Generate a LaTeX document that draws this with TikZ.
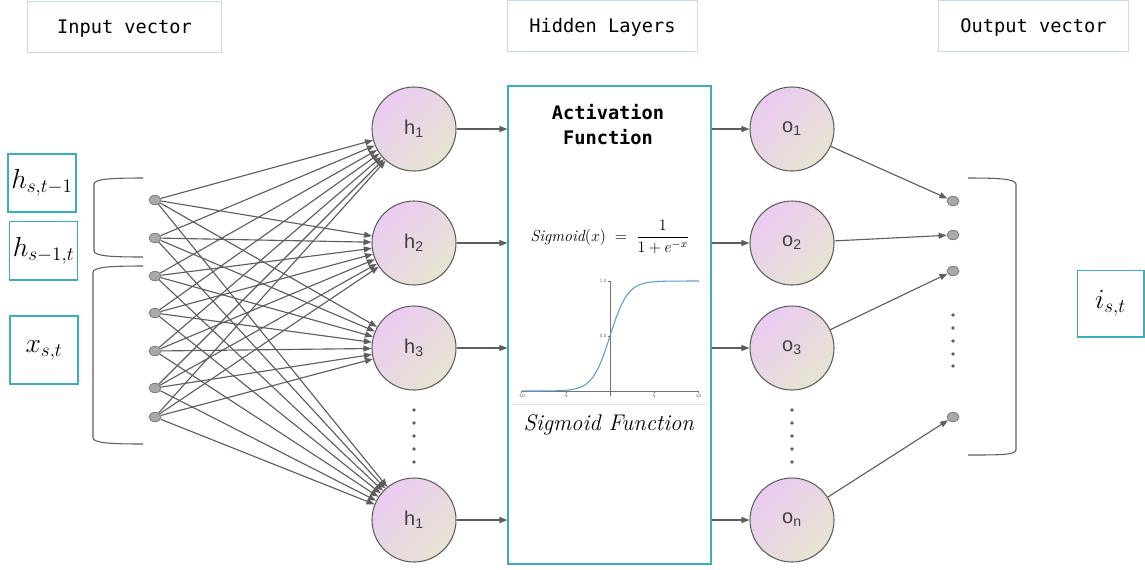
\documentclass[tikz,border=0pt]{standalone}
\usepackage{amsmath}
\usepackage{fontspec}
\setsansfont{Liberation Sans}
\setmonofont{DejaVu Sans Mono}
\usepackage{tikz}
\usetikzlibrary{positioning,arrows.meta,shapes.geometric}
\definecolor{tealb}{HTML}{3AAFBB}
\definecolor{headb}{HTML}{C9DAEC}
\definecolor{edgeg}{HTML}{5E5E5E}
\definecolor{lilac}{HTML}{EBCBF2}
\definecolor{beige}{HTML}{E6E4D2}
\definecolor{dotg}{HTML}{A9A9A9}
\definecolor{curveb}{HTML}{5B9BD5}

\begin{document}
\begin{tikzpicture}[x=0.75pt,y=-0.75pt,
  hbox/.style={draw=headb,line width=0.8pt,minimum width=143pt,minimum height=38pt,text depth=0.5pt,font=\ttfamily\fontsize{14}{16}\selectfont},
  vbox/.style={draw=tealb,line width=1pt,inner sep=0pt,minimum width=51pt,font=\fontsize{20}{22}\selectfont},
  hn/.style={circle,draw=edgeg,line width=0.8pt,minimum size=63pt,inner sep=0pt,
    top color=lilac,bottom color=beige,shading angle=45,text=black!75,font=\sffamily\fontsize{15}{17}\selectfont},
  dn/.style={ellipse,draw=edgeg!80,fill=dotg,line width=0.6pt,minimum width=9pt,minimum height=7pt,inner sep=0pt},
  arr/.style={draw=edgeg,line width=0.85pt,-{Triangle[length=6pt,width=4.5pt]}},
  brk/.style={draw=edgeg,line width=0.8pt},
  tk/.style={font=\sffamily\fontsize{3.5}{4}\selectfont,text=black!60,inner sep=1pt}]
\useasboundingbox (0,0) rectangle (1145,569);
\node[hbox,minimum width=146pt] (hin) at (124.5,27) {Input vector};
\node[hbox] (hhid) at (602.5,26) {Hidden Layers};
\node[hbox] (hout) at (1033.5,26) {Output vector};
\node[vbox,minimum height=43.5pt] (ha) at (42,183) {$h_{s,t-1}$};
\node[vbox,minimum height=44pt] (hb) at (43.5,250.5) {$h_{s-1,t}$};
\node[vbox,minimum height=51pt] (xin) at (44,350) {$x_{s,t}$};
\node[vbox,minimum height=50pt,minimum width=50pt] (iout) at (1110.5,303.5) {$i_{s,t}$};
\draw[brk] (143,178) .. controls (110,178) and (95,179) .. (94,184) -- (94,251) .. controls (95,256) and (110,257) .. (143,257);
\draw[brk] (143,266) .. controls (110,266) and (94,267) .. (93,272) -- (93,438) .. controls (94,443) and (110,444) .. (143,444);
\draw[brk] (968,178) .. controls (1000,178) and (1015,179) .. (1016,184) -- (1016,450) .. controls (1015,455) and (1000,455) .. (968,455);
\node[draw=tealb,line width=1.1pt,minimum width=152pt,minimum height=358.5pt,inner sep=0pt] (act) at (609.5,325) {};
\node[font=\ttfamily\bfseries\fontsize{14}{18.75}\selectfont,align=center] (title) at (608,124.5) {Activation\\Function};
\node[font=\fontsize{12}{14}\selectfont] (form) at (610,237) {$\mathit{Sigmoid}(x)\;=\;\dfrac{1}{1+e^{-x}}$};
\draw[black!55,line width=0.4pt] (522,391) -- (699,391);
\draw[black!55,line width=0.4pt] (610,281) -- (610,396);
\foreach \t in {-10,-5,5,10} {
  \draw[black!55,line width=0.3pt] ({610+8.85*\t},391) -- ({610+8.85*\t},393);
  \node[tk,anchor=north] at ({610+8.85*\t},393) {\t};
}
\foreach \v/\s in {0.5/336,1.0/281} {
  \draw[black!55,line width=0.3pt] (608,\s) -- (610,\s);
  \node[tk,anchor=east] at (608,\s) {\v};
}
\draw[curveb,line width=0.8pt] (522,391) -- plot[domain=-8:8,samples=90,smooth] ({610+8.85*\x},{391-110/(1+exp(-\x))}) -- (699,281);
\draw[black!12,line width=0.6pt] (512,404) -- (707,404);
\node[font=\fontsize{17}{20}\selectfont] (sfun) at (609,425) {\textit{Sigmoid Function}};
\foreach \i/\y in {1/200,2/238,3/276,4/313,5/351,6/388,7/417} \node[dn] (x\i) at (155,\y) {};
\foreach \n/\y/\l in {1/129/1,2/243/2,3/348/3,4/520/1} \node[hn] (h\n) at (414,\y) {h\textsubscript{\l}};
\foreach \n/\y/\l in {1/129/1,2/243/2,3/348/3,4/520/n} \node[hn] (o\n) at (792,\y) {o\textsubscript{\l}};
\foreach \i/\y in {1/201,2/235,3/271,4/417} \node[dn] (y\i) at (953,\y) {};
\foreach \i in {1,...,7} \foreach \j in {1,...,4} \draw[arr] (x\i) -- (h\j);
\foreach \j in {1,...,4} {
  \draw[arr] (h\j) -- (h\j -| act.west);
  \draw[arr] (o\j -| act.east) -- (o\j);
  \draw[arr] (o\j) -- (y\j);
}
\foreach \y in {410,423,436,449,462} {
  \fill[edgeg] (414,\y) circle (1.4pt);
  \fill[edgeg] (792,\y) circle (1.4pt);
}
\foreach \y in {315,328,341,354,366} \fill[edgeg] (953,\y) circle (1.4pt);
\end{tikzpicture}
\end{document}
